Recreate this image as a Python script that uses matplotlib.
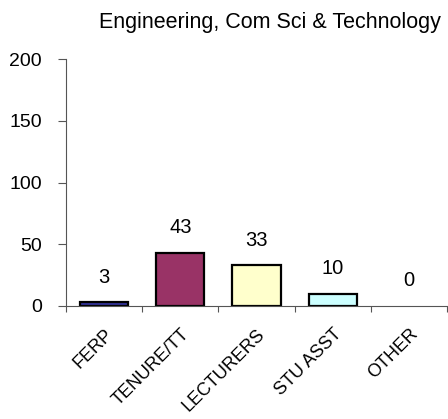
import numpy as np
from matplotlib import pyplot as plt

categories = ['FERP', 'TENURE/TT', 'LECTURERS', 'STU ASST', 'OTHER']
counts = [3, 43, 33, 10, 0]
bar_colors = ['#333399', '#993366', '#FFFFCC', '#CCFFFF', '#FFFFFF']
title = 'Engineering, Com Sci & Technology'

plt.rcParams['font.family'] = ['Liberation Sans', 'DejaVu Sans']

fig = plt.figure(figsize=(4.48, 4.19), dpi=100)
ax = fig.add_axes([66/448, 1-306/419, 381/448, 247/419])

x = np.arange(len(categories))
# empty categories get no outline (nothing drawn in the original)
edges = ['black' if v > 0 else 'none' for v in counts]
ax.bar(x, counts, width=0.63, color=bar_colors, edgecolor=edges, linewidth=1.6)

for xi, v in zip(x, counts):
    ax.annotate(str(v), (xi, v), xytext=(0, 18), textcoords='offset points',
                ha='center', va='center', fontsize=14.5)

ax.set_xlim(-0.5, len(categories)-0.5)
ax.set_ylim(0, 200)
ax.set_yticks([0, 50, 100, 150, 200])
ax.set_xticks(np.arange(len(categories)+1)-0.5, minor=False)
ax.set_xticklabels([])
ax.set_xticks(x, minor=True)
ax.set_xticklabels(categories, minor=True, rotation=45, ha='right',
                   rotation_mode='anchor', fontsize=13)
ax.tick_params(axis='x', which='minor', length=0, pad=14)
ax.tick_params(axis='x', which='major', length=4.5, direction='out', color='#555')
ax.tick_params(axis='y', length=5.5, pad=12, labelsize=14, color='#555')

for s in ['top', 'right']:
    ax.spines[s].set_visible(False)
ax.spines['left'].set_color('#555')
ax.spines['bottom'].set_color('#555')

fig.text(270/448, 1-28/419, title, ha='center', va='baseline', fontsize=15.5)

fig.savefig('out.png', dpi=100)
